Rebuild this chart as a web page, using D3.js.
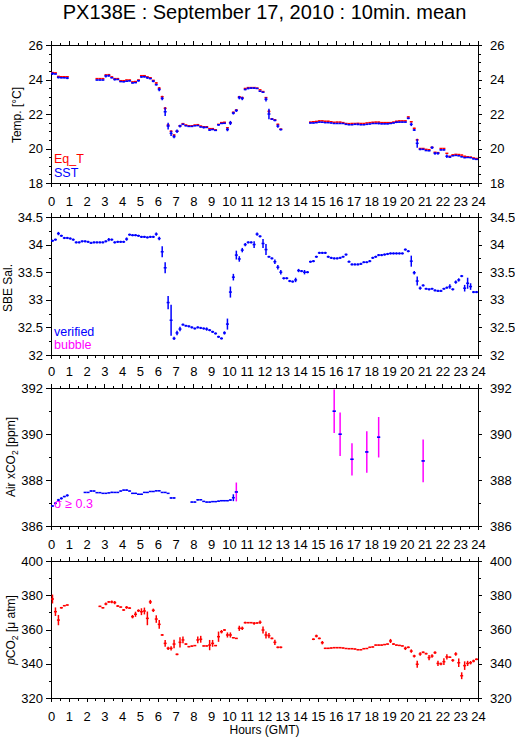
<!DOCTYPE html>
<html><head><meta charset="utf-8">
<script src="https://cdn.jsdelivr.net/npm/d3@7"></script>
<style>
body{margin:0;background:#fff}
svg{display:block}
text{font-family:"Liberation Sans",Arial,Helvetica,sans-serif;fill:#000}
</style>
</head><body>
<svg id="chart" width="515" height="739"></svg>
<script>
// ---- time grid: start minute of each 10-min mean ----
const minutes=[
0,10,20,30,40,50, 60,70,80,90,100,110, 120,130,140,150,160,170, 180,190,200,210,220,230,
240,250,260,270,280,290, 300,310,320,330,340,350, 360,370,380,390,400,410, 420,430,440,450,460,470,
480,490,500,510,520,530, 540,550,560,570,580,590, 600,610,620,630,640,650, 660,670,680,690,700,710,
720,730,740,750,760,770, 780,790,800,810,820,830, 840,850,860,870,880,890, 900,910,920,930,940,950,
960,970,980,990,1000,1010, 1020,1030,1040,1050,1060,1070, 1080,1090,1100,1110,1120,1130, 1140,1150,1160,1170,1180,1190,
1200,1210,1220,1230,1240,1250, 1260,1270,1280,1290,1300,1310, 1320,1330,1340,1350,1360,1370, 1380,1390,1400,1410,1420,1430];

const hourTicks=[0,1,2,3,4,5,6,7,8,9,10,11,12,13,14,15,16,17,18,19,20,21,22,23,24];
const halfHourTicks=[0.5,1.5,2.5,3.5,4.5,5.5,6.5,7.5,8.5,9.5,10.5,11.5,12.5,13.5,14.5,15.5,16.5,17.5,18.5,19.5,20.5,21.5,22.5,23.5];

// ---- Panel 1: temperature ----
const tempTicks=[18,20,22,24,26];
const tempMinor=[18.5,19,19.5,20.5,21,21.5,22.5,23,23.5,24.5,25,25.5];
const eqT=[
24.40,24.38,24.18,24.16,24.16,24.16, null,null,null,null,null,null, null,null,null,24.05,24.05,24.05, 24.26,24.28,24.15,24.05,24.05,23.93,
23.93,23.97,23.97,23.86,23.88,23.97, 24.22,24.22,24.15,24.10,23.95,23.80, 23.50,23.00,22.33,21.36,21.00,20.78, 21.00,21.32,21.44,21.36,21.32,21.32,
21.36,21.38,21.30,21.26,21.26,21.15, 21.15,21.08,21.40,21.50,21.52,21.20, 21.50,22.10,22.23,23.00,22.95,23.48, 23.53,23.53,23.53,23.50,23.40,23.30,
22.95,22.15,21.72,21.66,21.40,21.12, null,null,null,null,null,null, null,null,null,21.53,21.55,21.57, 21.60,21.60,21.58,21.58,21.55,21.52,
21.53,21.53,21.50,21.45,21.44,21.45, 21.45,21.46,21.45,21.45,21.48,21.50, 21.52,21.53,21.53,21.50,21.50,21.50, 21.50,21.53,21.58,21.60,21.60,21.60,
21.83,21.55,21.17,20.50,20.00,20.00, 19.95,19.93,20.07,19.78,19.76,20.00, 20.00,19.72,19.55,19.63,19.66,19.65, 19.62,19.55,19.52,19.50,19.45,19.42];
const eqTErr=[
.02,.02,.02,.02,.02,.02, 0,0,0,0,0,0, 0,0,0,.02,.02,.02, .04,.02,.02,.02,.02,.02,
.02,.02,.02,.02,.02,.02, .02,.02,.02,.02,.02,.04, .06,.06,.08,.06,.04,.03, .03,.03,.02,.02,.02,.02,
.02,.02,.02,.02,.02,.02, .02,.02,.02,.02,.02,.02, .02,.02,.02,.04,.04,.02, .02,.02,.02,.02,.02,.02,
.04,.08,.02,.02,.04,.02, 0,0,0,0,0,0, 0,0,0,.02,.02,.02, .02,.02,.02,.02,.02,.02,
.02,.02,.02,.02,.02,.02, .02,.02,.02,.02,.02,.02, .02,.02,.02,.02,.02,.02, .02,.02,.02,.02,.02,.02,
.02,.04,.04,.06,.02,.02, .02,.02,.02,.02,.02,.02, .02,.02,.02,.02,.02,.02, .02,.02,.02,.02,.02,.02];
const sst=[
24.34,24.32,24.12,24.10,24.10,24.08, null,null,null,null,null,null, null,null,null,23.97,23.97,23.97, 24.20,24.22,24.10,24.00,24.00,23.88,
23.87,23.90,23.92,23.80,23.82,23.93, 24.15,24.16,24.10,24.05,23.90,23.70, 23.42,22.90,22.13,21.30,20.88,20.69, 21.00,21.30,21.40,21.32,21.28,21.28,
21.32,21.33,21.25,21.22,21.22,21.07, 21.10,21.05,21.37,21.45,21.46,21.10, 21.48,22.05,22.20,22.95,22.90,23.42, 23.48,23.50,23.50,23.48,23.32,23.26,
22.85,22.00,21.70,21.63,21.30,21.10, null,null,null,null,null,null, null,null,null,21.48,21.48,21.50, 21.53,21.52,21.50,21.50,21.48,21.45,
21.45,21.45,21.45,21.40,21.38,21.38, 21.40,21.40,21.38,21.38,21.40,21.42, 21.45,21.45,21.45,21.43,21.43,21.43, 21.45,21.48,21.52,21.53,21.53,21.53,
21.75,21.40,21.07,20.30,19.95,19.95, 19.88,19.87,20.05,19.72,19.72,19.92, 19.92,19.55,19.50,19.58,19.60,19.58, 19.52,19.47,19.48,19.47,19.40,19.37];
const sstErr=[
.08,.03,.06,.03,.03,.06, 0,0,0,0,0,0, 0,0,0,.03,.03,.03, .08,.06,.03,.06,.03,.03,
.03,.03,.03,.03,.03,.05, .05,.05,.06,.03,.06,.05, .10,.10,.25,.20,.15,.10, .10,.08,.03,.03,.03,.03,
.03,.03,.03,.06,.03,.05, .03,.03,.05,.03,.03,.10, .12,.08,.08,.10,.10,.04, .05,.05,.05,.03,.03,.03,
.12,.30,.05,.05,.10,.05, 0,0,0,0,0,0, 0,0,0,.03,.03,.03, .03,.03,.03,.03,.03,.03,
.03,.03,.03,.03,.03,.03, .03,.05,.03,.03,.03,.03, .03,.03,.05,.03,.03,.03, .03,.03,.05,.03,.03,.03,
.05,.10,.06,.25,.05,.03, .03,.03,.08,.08,.08,.03, .03,.10,.03,.03,.03,.03, .03,.03,.03,.03,.03,.03];

// ---- Panel 2: salinity ----
const salTicks=[32,32.5,33,33.5,34,34.5];
const salMinor=[32.25,32.75,33.25,33.75,34.25];
const sal=[
34.07,34.09,34.20,34.16,34.12,34.12, 34.11,34.09,34.04,34.04,34.06,34.06, 34.05,34.03,34.04,34.04,34.04,34.04, 34.06,34.09,34.09,34.04,34.05,34.05,
34.05,34.10,34.18,34.17,34.17,34.16, 34.14,34.14,34.13,34.14,34.14,34.19, 34.11,33.87,33.58,32.95,32.63,32.30, 32.40,32.47,32.55,32.53,32.52,32.50,
32.48,32.50,32.49,32.48,32.47,32.45, 32.42,32.39,32.33,32.30,32.40,32.56, 33.14,33.41,33.81,33.74,33.90,34.00, 34.04,34.04,34.00,34.19,34.15,34.02,
33.91,33.78,33.75,33.69,33.59,33.50, 33.39,33.39,33.34,33.33,33.36,33.53, 33.52,33.50,33.50,33.69,33.70,33.78, 33.85,33.85,33.85,33.78,33.76,33.75,
33.75,33.76,33.78,33.82,33.69,33.64, 33.64,33.64,33.65,33.68,33.68,33.70, 33.76,33.78,33.81,33.81,33.82,33.83, 33.84,33.84,33.84,33.84,33.84,33.91,
33.88,33.70,33.49,33.34,33.21,33.26, 33.20,33.19,33.20,33.17,33.16,33.16, 33.20,33.22,33.24,33.19,33.32,33.36, 33.43,33.21,33.30,33.24,33.14,33.14];
const salErr=[
.02,.02,.03,.02,.02,.02, .02,.02,.02,.02,.02,.02, .02,.02,.02,.02,.02,.02, .02,.03,.02,.02,.02,.02,
.02,.03,.02,.02,.02,.02, .02,.02,.02,.02,.02,.03, .03,.10,.10,.12,.28,.03, .04,.04,.02,.02,.02,.02,
.02,.02,.02,.02,.03,.02, .02,.02,.02,.02,.03,.10, .10,.06,.08,.05,.04,.03, .02,.02,.06,.03,.02,.08,
.10,.02,.02,.04,.04,.04, .02,.02,.02,.02,.04,.03, .02,.04,.02,.02,.02,.02, .02,.02,.02,.02,.02,.02,
.02,.02,.02,.02,.02,.02, .02,.02,.02,.02,.02,.02, .02,.02,.02,.02,.02,.02, .02,.02,.02,.02,.02,.02,
.02,.10,.03,.08,.03,.02, .02,.02,.02,.02,.02,.02, .02,.02,.04,.02,.03,.03, .02,.06,.10,.06,.02,.02];

// ---- Panel 3: atmospheric xCO2 ----
const airTicks=[386,388,390,392];
const airMinor=[387,389,391];
const airCO2=[
386.87,386.99,387.13,387.20,387.28,387.33, null,null,null,null,null,387.46, 387.46,387.52,387.52,387.45,387.45,387.42, 387.42,387.44,387.46,387.46,387.46,387.52,
387.56,387.56,387.52,387.42,387.42,387.38, 387.38,387.46,387.46,387.50,387.50,387.53, 387.53,387.46,387.46,387.42,387.22,387.22, null,null,null,null,null,387.04,
387.04,387.14,387.14,387.07,387.04,387.04, 387.06,387.06,387.08,387.10,387.10,387.10, 387.13,387.23,387.48,null,null,null, null,null,null,null,null,null,
null,null,null,null,null,null, null,null,null,null,null,null, null,null,null,null,null,null, null,null,null,null,null,390.99,
null,389.99,null,null,null,388.90, null,null,null,null,389.22,null, null,null,389.86,null,null,null, null,null,null,null,null,null,
null,null,null,null,null,388.83, null,null,null,null,null,null, null,null,null,null,null,null, null,null,null,null,null,null];
const airErr=[
.03,.05,.05,.05,.03,.05, 0,0,0,0,0,.02, .02,.03,.02,.02,.02,.02, .02,.02,.03,.02,.02,.02,
.02,.03,.02,.02,.02,.02, .02,.02,.02,.02,.02,.02, .02,.02,.02,.02,.03,.03, 0,0,0,0,0,.02,
.02,.03,.02,.02,.02,.02, .02,.02,.02,.02,.02,.02, .03,.15,.41,0,0,0, 0,0,0,0,0,0,
0,0,0,0,0,0, 0,0,0,0,0,0, 0,0,0,0,0,0, 0,0,0,0,0,.95,
0,.95,0,0,0,.70, 0,0,0,0,.90,0, 0,0,.88,0,0,0, 0,0,0,0,0,0,
0,0,0,0,0,.93, 0,0,0,0,0,0, 0,0,0,0,0,0, 0,0,0,0,0,0];
const sigmaLimit=0.3;

// ---- Panel 4: pCO2 ----
const pco2Ticks=[320,340,360,380,400];
const pco2Minor=[330,350,370,390];
const pco2=[
377.8,370.4,365.5,372.7,373.9,374.3, null,null,null,null,null,null, null,null,null,null,373.5,372.7, 374.9,376.1,376.1,375.7,373.7,373.1,
371.4,372.9,372.5,367.5,368.9,371.0, 370.4,370.8,366.5,376.1,371.2,366.1, 363.0,356.8,351.9,349.0,349.0,351.5, 345.5,352.5,353.9,351.5,350.0,350.3,
350.6,353.9,354.3,350.4,350.4,350.9, 351.9,350.6,355.8,358.7,359.7,356.8, 356.8,355.2,354.8,360.7,360.7,364.0, 364.0,364.0,363.6,363.8,364.2,359.7,
356.8,356.4,354.8,352.5,349.6,349.6, null,null,null,null,null,null, null,null,null,null,354.3,356.2, 354.8,352.3,349.0,349.0,349.2,349.4,
349.4,349.4,349.2,348.9,348.8,348.8, 348.6,348.2,348.2,348.8,348.9,349.6, 349.8,350.9,350.9,350.9,351.2,351.5, 353.3,351.5,350.9,350.7,350.4,349.0,
349.6,347.4,344.5,339.7,345.7,346.7, 345.9,343.6,344.5,346.5,340.2,339.9, 341.2,344.0,343.8,342.0,345.7,340.6, 333.0,338.9,340.2,340.6,341.6,342.6];
const pco2Err=[
2.6,2.5,3.0,.5,.3,.3, 0,0,0,0,0,0, 0,0,0,0,.3,.5, .8,.5,.8,1.0,.5,.3,
.5,.8,.5,1.0,1.5,.8, 2.0,2.0,4.0,1.2,1.0,2.2, 2.5,.5,2.0,1.0,1.2,2.5, .5,3.0,2.0,.5,.3,.3,
.3,2.0,2.0,.3,.3,3.0, 2.0,.3,3.0,1.0,.5,1.5, 1.5,.3,.3,1.5,1.0,.5, .3,.3,.8,.5,1.0,2.0,
2.0,1.5,.5,1.5,.5,.5, 0,0,0,0,0,0, 0,0,0,0,.5,.8, .5,1.0,.3,.3,.3,.3,
.3,.3,.3,.3,.3,.3, .3,.3,.3,.3,.3,.3, .3,.3,.3,.3,.3,.3, 1.2,.5,.3,.3,.3,1.0,
.5,1.0,.8,2.0,1.0,.5, .5,1.5,1.0,.8,1.5,.8, 2.0,1.5,.5,.8,1.0,2.5, 2.0,2.5,1.5,1.0,.8,.5];

// ---- drawing ----
const RED="#ff0000", BLUE="#0000ff", MAGENTA="#ff00ff";
const svg=d3.select("#chart");
const X0=51, X1=478;
const x=d3.scaleLinear().domain([0,24]).range([X0,X1]);
const TICKFONT="13px";

function series(vals,errs){
  return vals.map((v,i)=>({t:minutes[i]/60,v:v,e:errs[i]})).filter(d=>d.v!==null);
}

function panel(top,bottom,domain,ticks,minor,fmt,opts){
  const y=d3.scaleLinear().domain(domain).range([bottom,top]);
  const g=svg.append("g");
  const xTop=d3.axisTop(x).tickValues(hourTicks).tickSize(4).tickPadding(8.5)
      .tickFormat(opts.topLabels?d3.format("d"):"");
  const xTopMin=d3.axisTop(x).tickValues(halfHourTicks).tickSize(2.5).tickFormat("");
  const xBot=d3.axisBottom(x).tickValues(hourTicks).tickSize(4).tickPadding(9.5)
      .tickFormat(opts.bottomLabels?d3.format("d"):"");
  const xBotMin=d3.axisBottom(x).tickValues(halfHourTicks).tickSize(2.5).tickFormat("");
  const yL=d3.axisLeft(y).tickValues(ticks).tickSize(5).tickPadding(3).tickFormat(fmt);
  const yLMin=d3.axisLeft(y).tickValues(minor).tickSize(2.5).tickFormat("");
  const yR=d3.axisRight(y).tickValues(ticks).tickSize(4).tickPadding(8).tickFormat(fmt);
  const yRMin=d3.axisRight(y).tickValues(minor).tickSize(2.5).tickFormat("");
  [[xTop,`translate(0,${top})`],[xTopMin,`translate(0,${top})`],
   [xBot,`translate(0,${bottom})`],[xBotMin,`translate(0,${bottom})`],
   [yL,`translate(${X0},0)`],[yLMin,`translate(${X0},0)`],
   [yR,`translate(${X1},0)`],[yRMin,`translate(${X1},0)`]].forEach(([ax,tr])=>{
     const a=g.append("g").attr("transform",tr).call(ax);
     a.select(".domain").remove();
     a.selectAll("line").attr("stroke","#000").attr("stroke-width",1).attr("shape-rendering","crispEdges");
     a.selectAll("text").attr("font-size",TICKFONT).attr("font-family",'"Liberation Sans",Arial,sans-serif').attr("fill","#000");
  });
  g.append("rect").attr("x",X0).attr("y",top).attr("width",X1-X0).attr("height",bottom-top)
    .attr("fill","none").attr("stroke","#000").attr("stroke-width",1).attr("shape-rendering","crispEdges");
  return {g,y};
}

function drawMarks(p,data,color,flagColor){
  const g=p.g.append("g");
  g.selectAll("line.h").data(data).join("line").attr("class","h")
    .attr("x1",d=>x(d.t)).attr("x2",d=>x(d.t+10/60))
    .attr("y1",d=>p.y(d.v)).attr("y2",d=>p.y(d.v))
    .attr("stroke",color).attr("stroke-width",1.5);
  g.selectAll("line.v").data(data.filter(d=>d.e>0)).join("line").attr("class","v")
    .attr("x1",d=>x(d.t+5/60)).attr("x2",d=>x(d.t+5/60))
    .attr("y1",d=>p.y(d.v-d.e)).attr("y2",d=>p.y(d.v+d.e))
    .attr("stroke",d=>(flagColor&&d.e>=sigmaLimit)?flagColor:color).attr("stroke-width",1.5);
  if(flagColor){
    g.selectAll("line.hf").data(data.filter(d=>d.e>=sigmaLimit)).join("line").attr("class","hf")
      .attr("x1",d=>x(d.t)).attr("x2",d=>x(d.t+10/60))
      .attr("y1",d=>p.y(d.v)).attr("y2",d=>p.y(d.v))
      .attr("stroke",color).attr("stroke-width",1.5);
  }
}

function yTitle(px,py,parts){
  const t=svg.append("text").attr("transform",`translate(${px},${py}) rotate(-90)`)
    .attr("text-anchor","middle").attr("font-size","12px");
  parts.forEach(p=>{
    const s=t.append("tspan").text(p.t);
    if(p.sub) s.attr("font-size","8.5px").attr("dy","3");
    if(p.up) s.attr("dy","-3");
    if(p.it) s.attr("font-style","italic");
  });
}

// title
svg.append("text").attr("x",264.5).attr("y",18.5).attr("text-anchor","middle")
  .attr("font-size","20px").text("PX138E : September 17, 2010 : 10min. mean");

// panel 1
const p1=panel(45,183,[18,26],tempTicks,tempMinor,d3.format("d"),{bottomLabels:true});
drawMarks(p1,series(eqT,eqTErr),RED);
drawMarks(p1,series(sst,sstErr),BLUE);
p1.g.append("text").attr("x",54).attr("y",163).attr("font-size","12.5px").style("fill",RED).text("Eq_T");
p1.g.append("text").attr("x",54).attr("y",177).attr("font-size","12.5px").style("fill",BLUE).text("SST");
yTitle(21,115,[{t:"Temp. [°C]"}]);

// panel 2
const p2=panel(217,355,[32,34.5],salTicks,salMinor,d=>String(d),{});
drawMarks(p2,series(sal,salErr),BLUE);
p2.g.append("text").attr("x",54).attr("y",336).attr("font-size","12.5px").style("fill",BLUE).text("verified");
p2.g.append("text").attr("x",54).attr("y",349).attr("font-size","12.5px").style("fill",MAGENTA).text("bubble");
yTitle(11.5,288,[{t:"SBE Sal."}]);

// panel 3
const p3=panel(388,526,[386,392],airTicks,airMinor,d3.format("d"),{topLabels:true});
drawMarks(p3,series(airCO2,airErr),BLUE,MAGENTA);
p3.g.append("text").attr("x",54).attr("y",508).attr("font-size","12.5px").style("fill",MAGENTA).text("σ ≥ 0.3");
yTitle(15,457,[{t:"Air "},{t:"x"},{t:"CO"},{t:"2",sub:true},{t:" [ppm]",up:true}]);

// panel 4
const p4=panel(561,698,[320,400],pco2Ticks,pco2Minor,d3.format("d"),{topLabels:true,bottomLabels:true});
drawMarks(p4,series(pco2,pco2Err),RED);
yTitle(15,630,[{t:"p",it:true},{t:"CO"},{t:"2",sub:true},{t:" [μ atm]",up:true}]);

svg.append("text").attr("x",264.5).attr("y",733.5).attr("text-anchor","middle")
  .attr("font-size","12px").text("Hours (GMT)");
</script>
</body></html>
